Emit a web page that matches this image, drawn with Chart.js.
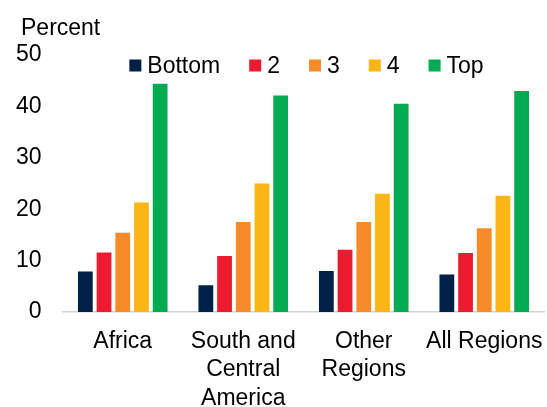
<!DOCTYPE html>
<html>
<head>
<meta charset="utf-8">
<script src="https://cdn.jsdelivr.net/npm/chart.js@4/dist/chart.umd.min.js"></script>
<style>
  body { margin: 0; background: #fff; }
  #wrap { width: 547px; height: 407px; position: relative; }
</style>
</head>
<body>
<div id="wrap"><canvas id="bar_chart"></canvas></div>
<script>
var regions = [['Africa'], ['South and', 'Central', 'America'], ['Other', 'Regions'], ['All Regions']];
var seriesNames = ['Bottom', '2', '3', '4', 'Top'];
var seriesColors = ['#002147', '#ed1b2f', '#f68c29', '#fbb515', '#00ab51'];
var bottomVals = [7.9, 5.2, 8.0, 7.3];
var q2Vals = [11.6, 10.9, 12.1, 11.5];
var q3Vals = [15.4, 17.5, 17.5, 16.3];
var q4Vals = [21.3, 25.0, 23.0, 22.6];
var topVals = [44.4, 42.1, 40.5, 43.0];
var yTicks = [0, 10, 20, 30, 40, 50];

var allVals = [bottomVals, q2Vals, q3Vals, q4Vals, topVals];
var fontFam = '"Liberation Sans", Arial, sans-serif';

// "Percent" unit label and legend drawn inside the plot area
var extras = {
  id: 'extras',
  afterDraw: function(chart) {
    var c = chart.ctx;
    c.save();
    c.fillStyle = '#000';
    c.font = '23px ' + fontFam;
    c.textBaseline = 'alphabetic';
    c.textAlign = 'left';
    c.fillText('Percent', 21, 35);

    var box = 12, gapText = 6, gapItem = 29;
    var widths = chart.data.datasets.map(function(d) {
      return box + gapText + c.measureText(d.label).width;
    });
    var total = widths.reduce(function(a, b) { return a + b; }, 0) + gapItem * (widths.length - 1);
    var area = chart.chartArea;
    var x = (area.left + area.right) / 2 + 3 - total / 2;
    var y = 65.5;
    chart.data.datasets.forEach(function(d, i) {
      c.fillStyle = d.backgroundColor;
      c.fillRect(x, y - box / 2, box, box);
      c.fillStyle = '#000';
      c.textBaseline = 'middle';
      c.fillText(d.label, x + box + gapText, y + 1);
      x += widths[i] + gapItem;
    });
    c.restore();
  }
};

var ctx = document.getElementById('bar_chart').getContext('2d');
var myChart = new Chart(ctx, {
  type: 'bar',
  data: {
    labels: regions,
    datasets: seriesNames.map(function(name, i) {
      return {
        label: name,
        data: allVals[i],
        backgroundColor: seriesColors[i],
        categoryPercentage: 0.776,
        barPercentage: 0.79
      };
    })
  },
  options: {
    responsive: true,
    maintainAspectRatio: false,
    animation: false,
    layout: { padding: { top: 55, left: 0, right: 2.5, bottom: 0 } },
    plugins: {
      legend: { display: false },
      tooltip: { enabled: false }
    },
    scales: {
      x: {
        grid: { display: false },
        border: { display: true, color: '#d4d4d4', width: 1.5 },
        afterFit: function(axis) {
          axis.paddingLeft = 0;
          axis.paddingRight = 0;
          axis.height = 95;
        },
        ticks: {
          color: '#000',
          padding: 7,
          maxRotation: 0,
          autoSkip: false,
          font: { family: fontFam, size: 23, lineHeight: 1.25 }
        }
      },
      y: {
        min: 0,
        max: 50,
        grid: { display: false, drawTicks: false },
        border: { display: false },
        afterBuildTicks: function(axis) {
          axis.ticks = yTicks.map(function(v) { return { value: v }; });
        },
        afterFit: function(axis) {
          axis.width = 62.5;
          axis.paddingTop = 0;
          axis.paddingBottom = 0;
        },
        ticks: {
          color: '#000',
          padding: 21,
          font: { family: fontFam, size: 23 }
        }
      }
    }
  },
  plugins: [extras]
});
</script>
</body>
</html>
